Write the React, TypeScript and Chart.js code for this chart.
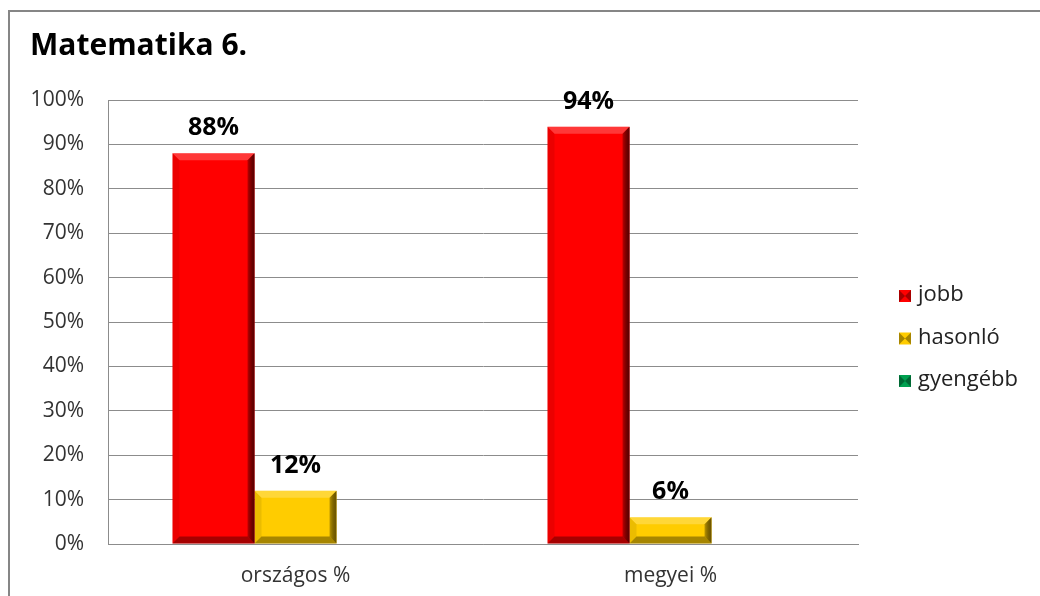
import React, { useEffect, useRef } from "react";
import { Chart, registerables } from "chart.js";

Chart.register(...registerables);

const chartTitle = "Matematika 6.";
const categories = ["országos %", "megyei %"];
const seriesNames = ["jobb", "hasonló", "gyengébb"];
const jobb = [88, 94];
const hasonlo = [12, 6];
const gyengebb = [0, 0];
const seriesColors = ["#FF0000", "#FFCC00", "#00A050"];
const edgeColors = ["#5a0000", "#6e5600", "#00502a"];

const FONT = "'Open Sans', Lato, sans-serif";

const framePlugin = {
  id: "frame",
  beforeDraw(chart: any) {
    const ctx = chart.ctx;
    ctx.save();
    ctx.fillStyle = "#ffffff";
    ctx.fillRect(0, 0, chart.width, chart.height);
    ctx.strokeStyle = "#868686";
    ctx.lineWidth = 2;
    ctx.beginPath();
    ctx.moveTo(9, chart.height);
    ctx.lineTo(9, 11);
    ctx.lineTo(chart.width, 11);
    ctx.stroke();
    ctx.restore();
  },
};

const bevelPlugin = {
  id: "bevel",
  afterDatasetsDraw(chart: any) {
    const ctx = chart.ctx;
    chart.data.datasets.forEach((ds: any, di: number) => {
      const meta = chart.getDatasetMeta(di);
      meta.data.forEach((el: any) => {
        const p = el.getProps(["x", "y", "base", "width"], true);
        const l = p.x - p.width / 2;
        const r = p.x + p.width / 2;
        const t = Math.min(p.y, p.base);
        const b = Math.max(p.y, p.base);
        const h = b - t;
        if (h < 1) return;
        const bv = Math.min(7, h / 3, p.width / 4);
        ctx.save();
        ctx.fillStyle = "rgba(255,255,255,0.22)";
        ctx.beginPath();
        ctx.moveTo(l, t); ctx.lineTo(r, t); ctx.lineTo(r - bv, t + bv); ctx.lineTo(l + bv, t + bv); ctx.closePath();
        ctx.fill();
        ctx.fillStyle = "rgba(0,0,0,0.08)";
        ctx.beginPath();
        ctx.moveTo(l, t); ctx.lineTo(l + bv, t + bv); ctx.lineTo(l + bv, b - bv); ctx.lineTo(l, b); ctx.closePath();
        ctx.fill();
        const g = ctx.createLinearGradient(r - bv, 0, r, 0);
        g.addColorStop(0, "rgba(0,0,0,0.25)");
        g.addColorStop(1, edgeColors[di]);
        ctx.fillStyle = g;
        ctx.beginPath();
        ctx.moveTo(r, t); ctx.lineTo(r, b); ctx.lineTo(r - bv, b - bv); ctx.lineTo(r - bv, t + bv); ctx.closePath();
        ctx.fill();
        ctx.fillStyle = "rgba(0,0,0,0.35)";
        ctx.beginPath();
        ctx.moveTo(l, b); ctx.lineTo(r, b); ctx.lineTo(r - bv, b - bv); ctx.lineTo(l + bv, b - bv); ctx.closePath();
        ctx.fill();
        ctx.restore();
      });
    });
  },
};

const labelPlugin = {
  id: "valueLabels",
  afterDatasetsDraw(chart: any) {
    const ctx = chart.ctx;
    ctx.save();
    ctx.font = `bold 25px ${FONT}`;
    ctx.fillStyle = "#000000";
    ctx.textAlign = "center";
    ctx.textBaseline = "alphabetic";
    chart.data.datasets.forEach((ds: any, di: number) => {
      const meta = chart.getDatasetMeta(di);
      meta.data.forEach((el: any, i: number) => {
        const v = ds.data[i];
        if (!v) return;
        const p = el.getProps(["x", "y"], true);
        ctx.fillText(v + "%", p.x, p.y - 18);
      });
    });
    ctx.restore();
  },
};

const titleLegendPlugin = {
  id: "titleLegend",
  afterDraw(chart: any) {
    const ctx = chart.ctx;
    ctx.save();
    ctx.font = `bold 30px ${FONT}`;
    ctx.fillStyle = "#000000";
    ctx.textAlign = "left";
    ctx.textBaseline = "alphabetic";
    ctx.fillText(chartTitle, 30, 55);

    ctx.font = `22px ${FONT}`;
    ctx.textBaseline = "middle";
    chart.data.datasets.forEach((ds: any, di: number) => {
      const cy = 296 + di * 42.5;
      const bx = 899;
      const s = 12;
      ctx.fillStyle = seriesColors[di];
      ctx.fillRect(bx, cy - s / 2, s, s);
      ctx.fillStyle = "rgba(0,0,0,0.35)";
      ctx.beginPath();
      ctx.moveTo(bx + s, cy - s / 2); ctx.lineTo(bx + s, cy + s / 2); ctx.lineTo(bx + s / 2, cy); ctx.closePath();
      ctx.fill();
      ctx.beginPath();
      ctx.moveTo(bx, cy - s / 2); ctx.lineTo(bx, cy + s / 2); ctx.lineTo(bx + s / 2, cy); ctx.closePath();
      ctx.fill();
      ctx.fillStyle = "#222222";
      ctx.fillText(ds.label, 918, cy - 1);
    });
    ctx.restore();
  },
};

export default function App() {
  const ref = useRef<HTMLCanvasElement>(null);
  useEffect(() => {
    if (!ref.current) return;
    const data = [jobb, hasonlo, gyengebb];
    const chart = new Chart(ref.current, {
      type: "bar",
      data: {
        labels: categories,
        datasets: seriesNames.map((name, i) => ({
          label: name,
          data: data[i],
          backgroundColor: seriesColors[i],
          borderWidth: 0,
          barPercentage: 1,
          categoryPercentage: 0.656,
        })),
      },
      options: {
        responsive: false,
        animation: false,
        layout: { padding: { top: 100, right: 182, bottom: 0, left: 0 } },
        plugins: {
          legend: { display: false },
          title: { display: false },
          tooltip: { enabled: false },
        },
        scales: {
          x: {
            grid: { display: false, drawTicks: false },
            border: { display: true, color: "#8c8c8c", width: 1 },
            ticks: { color: "#333333", font: { family: FONT, size: 21 }, padding: 19 },
            afterFit: (s: any) => { s.height = 52; },
          },
          y: {
            min: 0,
            max: 100,
            grid: { color: "#8c8c8c", lineWidth: 1, drawTicks: false },
            border: { display: true, color: "#8c8c8c", width: 1 },
            ticks: {
              stepSize: 10,
              padding: 24,
              color: "#333333",
              font: { family: FONT, size: 21 },
              callback: (v: any) => v + "%",
            },
            afterFit: (s: any) => { s.width = 108; },
          },
        },
      },
      plugins: [framePlugin, bevelPlugin, labelPlugin, titleLegendPlugin],
    });
    return () => chart.destroy();
  }, []);
  return (
    <div style={{ position: "absolute", left: 0, top: 0, width: 1040, height: 596 }}>
      <canvas ref={ref} width={1040} height={596} style={{ width: 1040, height: 596, display: "block" }} />
    </div>
  );
}
